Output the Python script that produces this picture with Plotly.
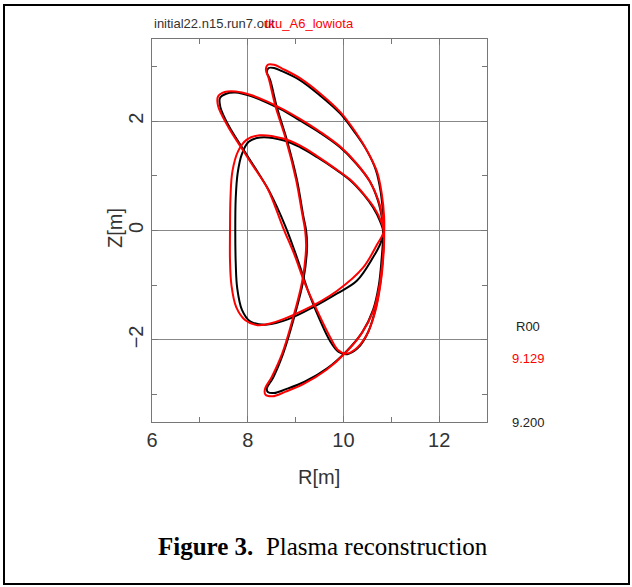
import plotly.graph_objects as go

# ---- data ----
A_black_R = [9.22, 9.16, 9.03, 8.82, 8.61, 8.47, 8.40, 8.44, 8.55, 8.70, 9.09, 9.51, 9.93, 10.24, 10.49, 10.68, 10.78, 10.83, 10.83, 10.80, 10.74, 10.62, 10.40, 10.07, 9.66, 9.20, 8.80, 8.55, 8.42, 8.40, 8.53, 8.74, 8.95, 9.16, 9.24, 9.22]
A_black_Z = [0.00, 0.27, 0.92, 1.65, 2.25, 2.75, 2.90, 2.97, 2.97, 2.92, 2.75, 2.47, 2.14, 1.79, 1.46, 1.10, 0.70, 0.25, -0.10, -0.50, -1.00, -1.45, -1.85, -2.20, -2.52, -2.76, -2.90, -2.97, -2.95, -2.88, -2.69, -2.25, -1.65, -0.92, -0.30, 0.00]
A_red_R = [9.20, 9.14, 9.01, 8.80, 8.58, 8.44, 8.38, 8.42, 8.55, 8.72, 9.10, 9.52, 9.95, 10.26, 10.50, 10.70, 10.80, 10.85, 10.85, 10.82, 10.75, 10.62, 10.38, 10.05, 9.64, 9.18, 8.78, 8.52, 8.37, 8.36, 8.50, 8.72, 8.93, 9.14, 9.22, 9.20]
A_red_Z = [0.00, 0.30, 0.93, 1.66, 2.27, 2.78, 2.94, 3.03, 3.03, 2.96, 2.78, 2.50, 2.15, 1.79, 1.45, 1.08, 0.68, 0.25, -0.10, -0.52, -1.02, -1.48, -1.88, -2.23, -2.55, -2.80, -2.95, -3.03, -3.00, -2.90, -2.68, -2.25, -1.65, -0.92, -0.30, 0.00]

B_black_R = [7.74, 7.75, 7.79, 7.88, 8.02, 8.26, 8.74, 9.10, 9.45, 9.80, 10.14, 10.42, 10.62, 10.76, 10.83, 10.78, 10.62, 10.28, 9.87, 9.37, 8.85, 8.41, 8.05, 7.88, 7.78, 7.75, 7.74]
B_black_Z = [0.00, 0.60, 1.05, 1.40, 1.62, 1.70, 1.65, 1.52, 1.34, 1.14, 0.92, 0.66, 0.42, 0.18, -0.02, -0.22, -0.49, -0.92, -1.15, -1.40, -1.62, -1.72, -1.66, -1.45, -1.05, -0.60, 0.00]
B_red_R = [7.63, 7.64, 7.68, 7.80, 7.98, 8.25, 8.74, 9.10, 9.45, 9.80, 10.14, 10.42, 10.64, 10.78, 10.84, 10.70, 10.41, 9.87, 9.16, 8.47, 8.20, 7.95, 7.76, 7.66, 7.63, 7.63]
B_red_Z = [0.00, 0.60, 1.08, 1.45, 1.66, 1.74, 1.68, 1.55, 1.36, 1.15, 0.93, 0.67, 0.42, 0.18, -0.02, -0.26, -0.68, -1.10, -1.46, -1.70, -1.73, -1.64, -1.40, -1.00, -0.55, 0.00]

C_black_R = [9.09, 9.52, 9.93, 10.27, 10.55, 10.72, 10.81, 10.84, 10.83, 10.78, 10.68, 10.52, 10.30, 10.08, 9.90, 9.72, 9.50, 9.28, 9.05, 8.80, 8.45, 8.15, 7.88, 7.60, 7.43, 7.42, 7.55, 7.75, 8.05, 8.40, 8.75, 9.09]
C_black_Z = [2.01, 1.78, 1.52, 1.22, 0.90, 0.55, 0.20, -0.10, -0.40, -0.90, -1.40, -1.85, -2.15, -2.26, -2.22, -2.02, -1.62, -1.15, -0.55, 0.05, 0.72, 1.15, 1.52, 1.92, 2.25, 2.42, 2.50, 2.52, 2.46, 2.34, 2.19, 2.01]
C_red_R = [9.09, 9.52, 9.95, 10.28, 10.55, 10.73, 10.82, 10.85, 10.84, 10.78, 10.66, 10.48, 10.25, 10.05, 9.88, 9.74, 9.48, 9.20, 8.98, 8.74, 8.42, 8.12, 7.86, 7.57, 7.38, 7.38, 7.52, 7.75, 8.05, 8.40, 8.75, 9.09]
C_red_Z = [2.04, 1.80, 1.52, 1.22, 0.90, 0.55, 0.20, -0.10, -0.40, -0.95, -1.50, -1.92, -2.17, -2.25, -2.18, -1.98, -1.52, -0.98, -0.45, 0.05, 0.76, 1.17, 1.52, 1.93, 2.28, 2.45, 2.53, 2.54, 2.48, 2.36, 2.21, 2.04]

x_ticks = [6, 8, 10, 12]
y_ticks = [-2, 0, 2]
y_tick_text = ["\u22122", "0", "2"]
title_black = "initial22.n15.run7.out"
title_red = "tku_A6_lowiota"
r00_label = "R00"
r00_red = "9.129"
r00_black = "9.200"

fig = go.Figure()
for R, Z, col in [
    (A_black_R, A_black_Z, "black"), (B_black_R, B_black_Z, "black"), (C_black_R, C_black_Z, "black"),
    (A_red_R, A_red_Z, "#ff0000"), (B_red_R, B_red_Z, "#ff0000"), (C_red_R, C_red_Z, "#ff0000"),
]:
    fig.add_trace(go.Scatter(x=R, y=Z, mode="lines",
                             line=dict(color=col, width=2, shape="spline", smoothing=1.0),
                             showlegend=False, hoverinfo="skip"))

axis_common = dict(
    showline=True, linecolor="#777", linewidth=1, mirror="allticks",
    showgrid=True, gridcolor="#888", gridwidth=1, zeroline=False,
    ticks="inside", ticklen=6, tickcolor="#777",
    tickfont=dict(family="Liberation Sans", size=20, color="#333"),
    minor=dict(ticks="inside", ticklen=5, dtick=1, tickcolor="#777", showgrid=False),
)
fig.update_xaxes(range=[6, 13], tickvals=x_ticks, **axis_common)
fig.update_yaxes(range=[-3.5, 3.5], tickvals=y_ticks, ticktext=y_tick_text, tickangle=-90, **axis_common)

L, T, W, H = 152, 39, 335, 383
def px(x):
    return (x - L) / W
def py(y):
    return 1 - (y - T) / H

def note(x, y, text, size, color, family="Liberation Sans", xanchor="center", angle=0):
    return dict(x=px(x), y=py(y), xref="paper", yref="paper", text=text, showarrow=False,
                xanchor=xanchor, yanchor="middle", textangle=angle,
                font=dict(family=family, size=size, color=color))

ann = [
    note(152, 23, title_black, 13, "#333", xanchor="left"),
    note(263, 23, title_red, 13, "#ff0000", xanchor="left"),
    note(528, 326, r00_label, 13, "#222"),
    note(528, 358, r00_red, 13, "#ff0000"),
    note(528, 423, r00_black, 13, "#222"),
    note(319, 477, "R[m]", 20, "#333"),
    note(115, 228, "Z[m]", 20, "#333", angle=-90),
    note(323, 546, "<b>Figure 3.</b>  Plasma reconstruction", 25, "black", family="Liberation Serif"),
]
fig.update_layout(annotations=ann)

fig.add_shape(type="rect", xref="paper", yref="paper",
              x0=px(4), x1=px(629), y0=py(584), y1=py(5),
              line=dict(color="black", width=2), layer="above")

fig.update_layout(
    width=632, height=587,
    margin=dict(l=L, r=632 - L - W, t=T, b=587 - T - H, pad=0),
    paper_bgcolor="white", plot_bgcolor="white",
)
fig.write_html("out.html",
               config={"displayModeBar": False},
               post_script="document.body.style.margin='0';document.body.style.overflow='hidden';")
